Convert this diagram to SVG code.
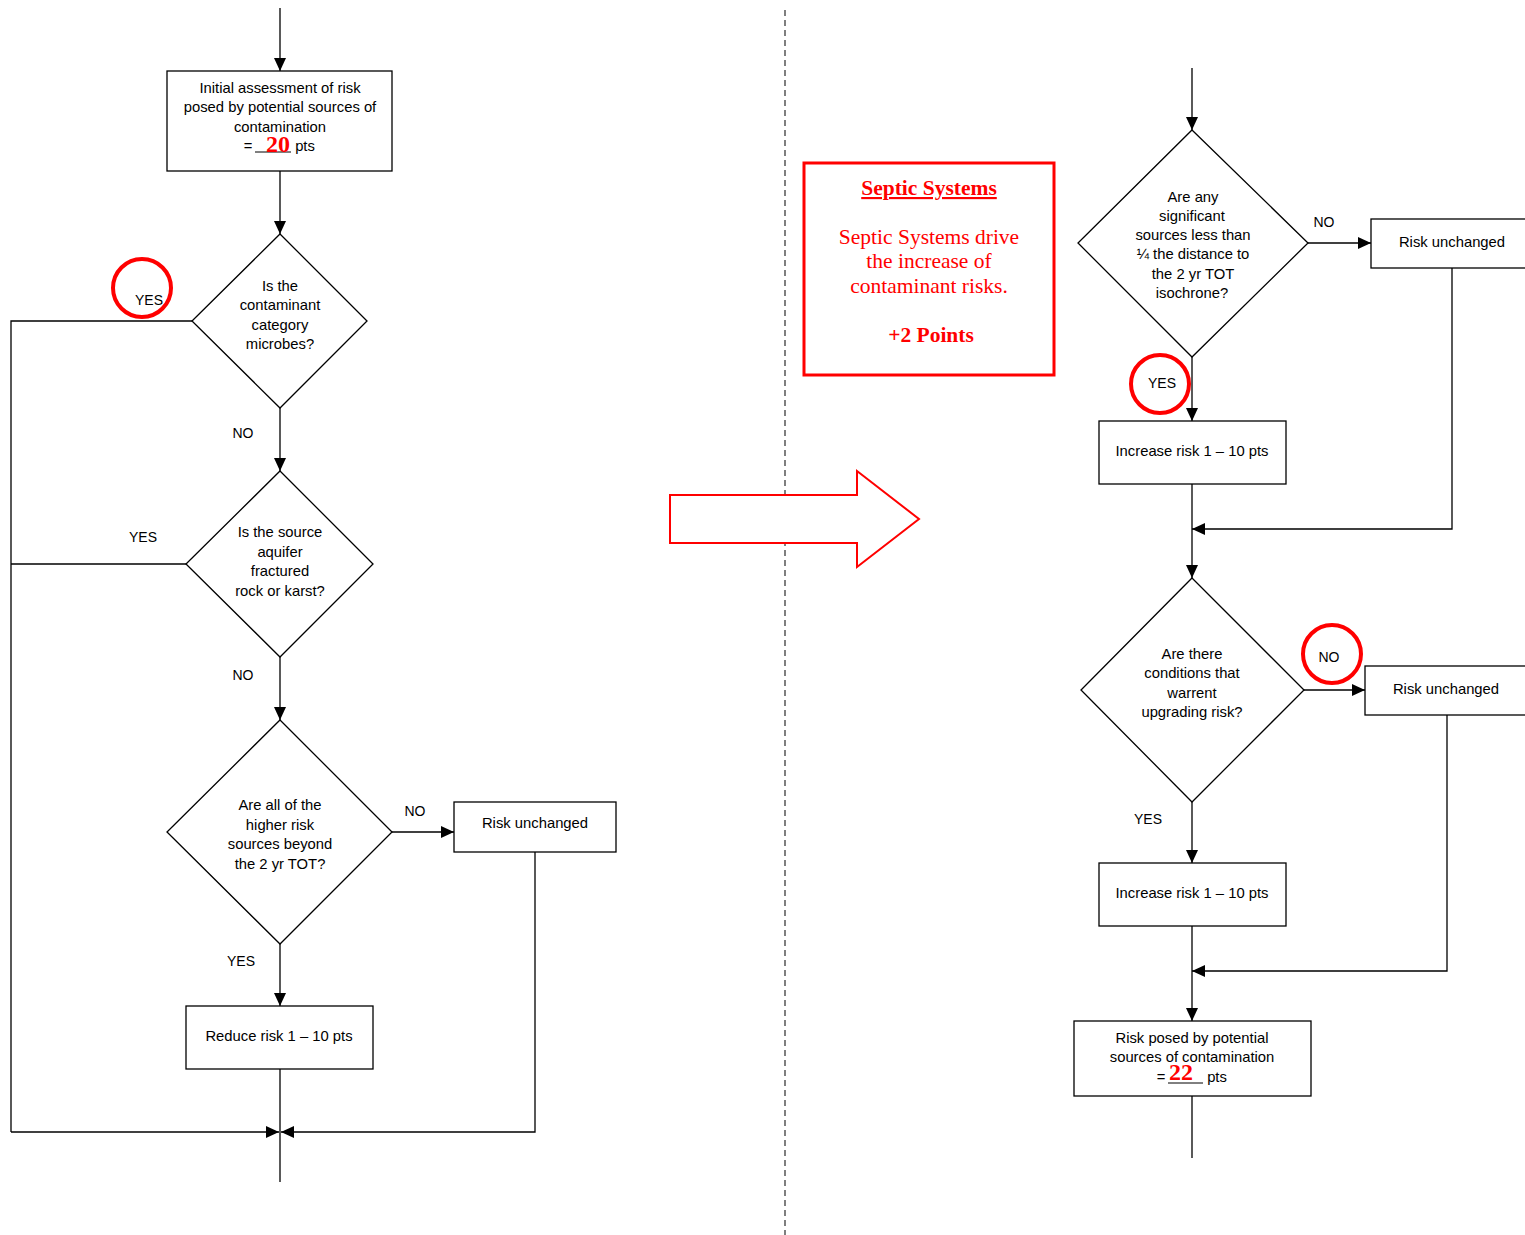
<svg xmlns="http://www.w3.org/2000/svg" width="1525" height="1235" viewBox="0 0 1525 1235">
  <style>
    .shape { fill: #ffffff; stroke: #000000; stroke-width: 1.3; }
    .line { fill: none; stroke: #000000; stroke-width: 1.3; }
    .arrow { fill: none; stroke: #000000; stroke-width: 1.3; marker-end: url(#head); }
    .txt { font-family: "Liberation Sans", Arial, sans-serif; font-size: 14.8px; fill: #000000; text-anchor: middle; }
    .lbl { font-family: "Liberation Sans", Arial, sans-serif; font-size: 14px; fill: #000000; text-anchor: middle; }
    .ring { fill: none; stroke: #ff0000; stroke-width: 4; }
    .score { font-family: "Liberation Serif", "Times New Roman", serif; font-size: 24px; font-weight: bold; fill: #ff0000; text-anchor: middle; }
    .note { font-family: "Liberation Serif", "Times New Roman", serif; font-size: 21.5px; fill: #ff0000; text-anchor: middle; }
  </style>
  <defs>
    <marker id="head" viewBox="0 0 13 12" refX="13" refY="6" markerWidth="13" markerHeight="12" markerUnits="userSpaceOnUse" orient="auto">
      <path d="M0,0 L13,6 L0,12 Z" fill="#000000"/>
    </marker>
  </defs>

  <rect width="1525" height="1235" fill="#ffffff"/>

  <!-- divider between the two flows -->
  <line x1="785" y1="10" x2="785" y2="1235" stroke="#555555" stroke-width="1.5" stroke-dasharray="6,4"/>

  <!-- connectors -->
  <g id="connectors">
    <!-- left flow -->
    <path class="arrow" d="M280,8 V71"/>
    <path class="arrow" d="M280,171 V234"/>
    <path class="arrow" d="M280,408 V471"/>
    <path class="arrow" d="M280,657 V720"/>
    <path class="arrow" d="M392,832 H454"/>
    <path class="arrow" d="M280,944 V1006"/>
    <path class="line" d="M280,1069 V1182"/>
    <path class="line" d="M192,321 H11 V1132"/>
    <path class="line" d="M186,564 H11"/>
    <path class="arrow" d="M11,1132 H279"/>
    <path class="arrow" d="M535,852 V1132 H281"/>
    <!-- right flow -->
    <path class="arrow" d="M1192,68 V130"/>
    <path class="arrow" d="M1308,243 H1371"/>
    <path class="arrow" d="M1192,357 V421"/>
    <path class="arrow" d="M1452,268 V529 H1192"/>
    <path class="arrow" d="M1192,484 V578"/>
    <path class="arrow" d="M1304,690 H1365"/>
    <path class="arrow" d="M1192,802 V863"/>
    <path class="arrow" d="M1447,715 V971 H1192"/>
    <path class="arrow" d="M1192,926 V1021"/>
    <path class="line" d="M1192,1096 V1158"/>
  </g>

  <!-- connector labels -->
  <g id="labels">
    <text class="lbl" x="149" y="305">YES</text>
    <text class="lbl" x="243" y="438">NO</text>
    <text class="lbl" x="143" y="542">YES</text>
    <text class="lbl" x="243" y="680">NO</text>
    <text class="lbl" x="415" y="816">NO</text>
    <text class="lbl" x="241" y="966">YES</text>
    <text class="lbl" x="1324" y="227">NO</text>
    <text class="lbl" x="1162" y="388">YES</text>
    <text class="lbl" x="1329" y="662">NO</text>
    <text class="lbl" x="1148" y="824">YES</text>
  </g>

  <!-- red highlight rings -->
  <g id="highlights">
    <circle class="ring" cx="142" cy="288" r="29"/>
    <circle class="ring" cx="1160" cy="384" r="29"/>
    <circle class="ring" cx="1332" cy="654" r="29"/>
  </g>

  <!-- left flow nodes -->
  <g id="initial-assessment">
    <rect class="shape" x="167" y="71" width="225" height="100"/>
    <text class="txt" x="280" y="93">Initial assessment of risk</text>
    <text class="txt" x="280" y="112">posed by potential sources of</text>
    <text class="txt" x="280" y="132">contamination</text>
    <text class="txt" x="248" y="151">=</text>
    <line x1="255" y1="152" x2="291" y2="152" stroke="#000000" stroke-width="1"/>
    <text class="score" x="278" y="152">20</text>
    <text class="txt" x="305" y="151">pts</text>
  </g>

  <g id="q-microbes">
    <polygon class="shape" points="280,234 367,321 280,408 192,321"/>
    <text class="txt" x="280" y="291">Is the</text>
    <text class="txt" x="280" y="310">contaminant</text>
    <text class="txt" x="280" y="330">category</text>
    <text class="txt" x="280" y="349">microbes?</text>
  </g>

  <g id="q-aquifer">
    <polygon class="shape" points="280,471 373,564 280,657 186,564"/>
    <text class="txt" x="280" y="537">Is the source</text>
    <text class="txt" x="280" y="557">aquifer</text>
    <text class="txt" x="280" y="576">fractured</text>
    <text class="txt" x="280" y="596">rock or karst?</text>
  </g>

  <g id="q-beyond-tot">
    <polygon class="shape" points="280,720 392,832 280,944 167,832"/>
    <text class="txt" x="280" y="810">Are all of the</text>
    <text class="txt" x="280" y="830">higher risk</text>
    <text class="txt" x="280" y="849">sources beyond</text>
    <text class="txt" x="280" y="869">the 2 yr TOT?</text>
  </g>

  <g id="risk-unchanged-left">
    <rect class="shape" x="454" y="802" width="162" height="50"/>
    <text class="txt" x="535" y="828">Risk unchanged</text>
  </g>

  <g id="reduce-risk">
    <rect class="shape" x="186" y="1006" width="187" height="63"/>
    <text class="txt" x="279" y="1041">Reduce risk 1 – 10 pts</text>
  </g>

  <!-- transition arrow -->
  <g id="transition">
    <polygon points="670,495 857,495 857,471 919,519 857,567 857,543 670,543" fill="#ffffff" stroke="#ff0000" stroke-width="2"/>
  </g>

  <!-- septic systems note -->
  <g id="septic-note">
    <rect x="804" y="163" width="250" height="212" fill="#ffffff" stroke="#ff0000" stroke-width="3"/>
    <text class="note" x="929" y="195" font-weight="bold" text-decoration="underline">Septic Systems</text>
    <text class="note" x="929" y="244">Septic Systems drive</text>
    <text class="note" x="929" y="268">the increase of</text>
    <text class="note" x="929" y="293">contaminant risks.</text>
    <text class="note" x="931" y="342" font-weight="bold">+2 Points</text>
  </g>

  <!-- right flow nodes -->
  <g id="q-quarter-distance">
    <polygon class="shape" points="1192,130 1308,243 1192,357 1078,243"/>
    <text class="txt" x="1193" y="202">Are any</text>
    <text class="txt" x="1192" y="221">significant</text>
    <text class="txt" x="1193" y="240">sources less than</text>
    <text class="txt" x="1193" y="259">¼ the distance to</text>
    <text class="txt" x="1193" y="279">the 2 yr TOT</text>
    <text class="txt" x="1192" y="298">isochrone?</text>
  </g>

  <g id="risk-unchanged-right-1">
    <rect class="shape" x="1371" y="219" width="162" height="49"/>
    <text class="txt" x="1452" y="247">Risk unchanged</text>
  </g>

  <g id="increase-risk-1">
    <rect class="shape" x="1099" y="421" width="187" height="63"/>
    <text class="txt" x="1192" y="456">Increase risk 1 – 10 pts</text>
  </g>

  <g id="q-upgrade-conditions">
    <polygon class="shape" points="1192,578 1304,690 1192,802 1081,690"/>
    <text class="txt" x="1192" y="659">Are there</text>
    <text class="txt" x="1192" y="678">conditions that</text>
    <text class="txt" x="1192" y="698">warrent</text>
    <text class="txt" x="1192" y="717">upgrading risk?</text>
  </g>

  <g id="risk-unchanged-right-2">
    <rect class="shape" x="1365" y="666" width="165" height="49"/>
    <text class="txt" x="1446" y="694">Risk unchanged</text>
  </g>

  <g id="increase-risk-2">
    <rect class="shape" x="1099" y="863" width="187" height="63"/>
    <text class="txt" x="1192" y="898">Increase risk 1 – 10 pts</text>
  </g>

  <g id="final-risk">
    <rect class="shape" x="1074" y="1021" width="237" height="75"/>
    <text class="txt" x="1192" y="1043">Risk posed by potential</text>
    <text class="txt" x="1192" y="1062">sources of contamination</text>
    <text class="txt" x="1161" y="1082">=</text>
    <line x1="1168" y1="1083" x2="1203" y2="1083" stroke="#000000" stroke-width="1"/>
    <text class="score" x="1181" y="1080">22</text>
    <text class="txt" x="1217" y="1082">pts</text>
  </g>
</svg>
